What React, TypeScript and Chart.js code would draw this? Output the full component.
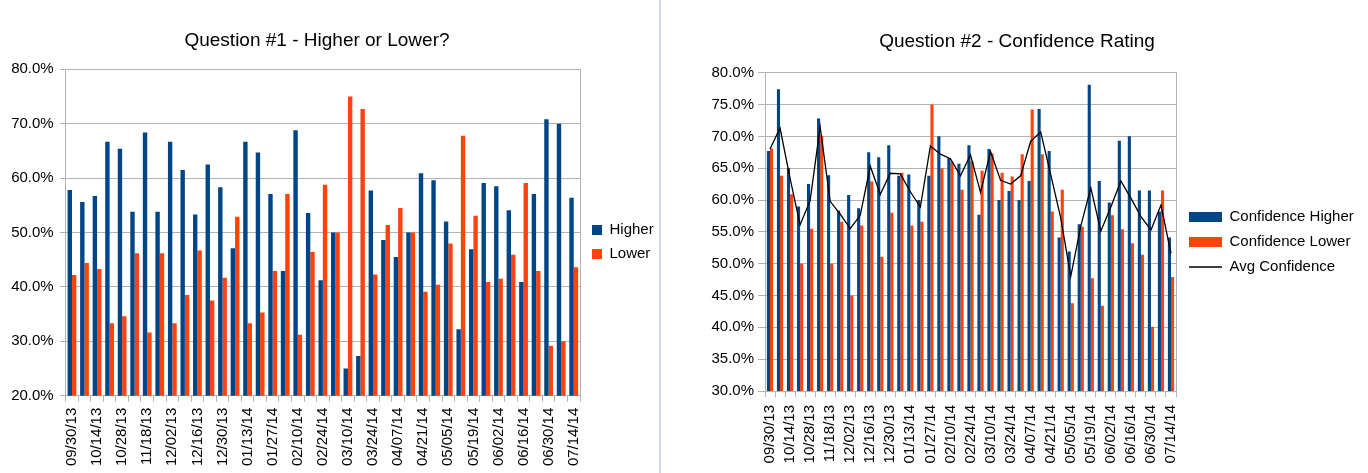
import React, { useEffect, useRef } from 'react';
import { Chart, registerables } from 'chart.js';

Chart.register(...registerables);

const FONT = "'Liberation Sans', Arial, sans-serif";
Chart.defaults.font.family = FONT;
Chart.defaults.color = '#000';

// Weekly categories (labels shown on every other category)
const weeks = [
  '09/30/13', '10/07/13', '10/14/13', '10/21/13', '10/28/13', '11/11/13', '11/18/13', '11/25/13',
  '12/02/13', '12/09/13', '12/16/13', '12/23/13', '12/30/13', '01/06/14', '01/13/14', '01/20/14',
  '01/27/14', '02/03/14', '02/10/14', '02/17/14', '02/24/14', '03/03/14', '03/10/14', '03/17/14',
  '03/24/14', '03/31/14', '04/07/14', '04/14/14', '04/21/14', '04/28/14', '05/05/14', '05/12/14',
  '05/19/14', '05/26/14', '06/02/14', '06/09/14', '06/16/14', '06/23/14', '06/30/14', '07/07/14',
  '07/14/14',
];

// Question #1 - Higher or Lower? (percent)
const q1Higher = [
  57.8, 55.6, 56.7, 66.7, 65.4, 53.8, 68.4, 53.8, 66.7, 61.5, 53.3, 62.5, 58.3, 47.1, 66.7, 64.7,
  57.1, 42.9, 68.8, 53.6, 41.2, 50.0, 25.0, 27.3, 57.7, 48.6, 45.5, 50.0, 60.9, 59.6, 52.0, 32.2,
  46.9, 59.1, 58.5, 54.1, 40.9, 57.1, 70.8, 70.0, 56.4,
];
const q1Lower = [
  42.2, 44.4, 43.3, 33.3, 34.6, 46.2, 31.6, 46.2, 33.3, 38.5, 46.7, 37.5, 41.7, 52.9, 33.3, 35.3,
  42.9, 57.1, 31.2, 46.4, 58.8, 50.0, 75.0, 72.7, 42.3, 51.4, 54.5, 50.0, 39.1, 40.4, 48.0, 67.8,
  53.1, 40.9, 41.5, 45.9, 59.1, 42.9, 29.2, 30.0, 43.6,
];

// Question #2 - Confidence Rating (percent)
const q2Higher = [
  67.7, 77.4, 65.0, 59.0, 62.5, 72.8, 63.9, 58.3, 60.8, 58.7, 67.5, 66.7, 68.6, 63.8, 64.0, 60.0,
  63.8, 70.0, 66.6, 65.7, 68.6, 57.7, 68.0, 60.0, 61.4, 60.0, 63.0, 74.3, 67.7, 54.1, 51.9, 56.2,
  78.1, 63.0, 59.6, 69.3, 70.0, 61.5, 61.5, 58.2, 54.1,
];
const q2Lower = [
  68.1, 63.8, 60.9, 50.0, 55.5, 70.1, 50.0, 56.6, 45.0, 56.0, 62.9, 51.1, 58.0, 64.3, 56.0, 56.6,
  75.0, 65.0, 66.0, 61.6, 66.1, 64.6, 67.3, 64.3, 63.7, 67.2, 74.2, 67.2, 58.2, 61.6, 43.8, 55.8,
  47.7, 43.4, 57.6, 55.4, 53.2, 51.4, 40.1, 61.5, 47.9,
];
const q2Avg = [
  68.0, 71.3, 63.4, 56.1, 59.9, 71.5, 59.8, 57.8, 55.5, 57.6, 65.3, 60.9, 64.2, 64.1, 61.3, 58.9,
  68.5, 67.2, 66.5, 63.8, 67.1, 61.2, 67.6, 63.1, 62.5, 63.8, 69.2, 70.7, 64.0, 57.2, 48.0, 55.9,
  61.9, 55.1, 58.9, 63.0, 60.3, 57.4, 55.3, 59.2, 51.6,
];

const q1YTicks = [20, 30, 40, 50, 60, 70, 80];
const q2YTicks = [30, 35, 40, 45, 50, 55, 60, 65, 70, 75, 80];

const BLUE = '#004586';
const ORANGE = '#ff420e';
const GRID = '#b3b3b3';

const pct = (v: any) => Number(v).toFixed(1) + '%';
const everyOther = (_v: any, i: number) => (i % 2 === 0 ? weeks[i] : '');

function makeLeftConfig(): any {
  return {
    type: 'bar',
    data: {
      labels: weeks,
      datasets: [
        { label: 'Higher', data: q1Higher, backgroundColor: BLUE },
        { label: 'Lower', data: q1Lower, backgroundColor: ORANGE },
      ],
    },
    options: {
      responsive: false,
      animation: false,
      events: [],
      layout: { padding: { left: 0, right: 4, top: 0, bottom: 0 } },
      datasets: { bar: { categoryPercentage: 0.7, barPercentage: 1 } },
      plugins: {
        tooltip: { enabled: false },
        title: {
          display: true,
          text: 'Question #1 - Higher or Lower?',
          color: '#000',
          font: { size: 19, weight: 'normal', family: FONT },
          padding: { top: 29.3, bottom: 17.2 },
        },
        legend: {
          position: 'right',
          maxWidth: 73,
          title: { display: true, text: '', font: { size: 11, lineHeight: 1 }, padding: 0 },
          labels: {
            boxWidth: 10,
            boxHeight: 10,
            padding: 9,
            color: '#000',
            font: { size: 15, family: FONT },
          },
        },
      },
      scales: {
        x: {
          grid: { drawOnChartArea: false, tickLength: 6, color: GRID, offset: true },
          border: { color: GRID },
          ticks: {
            autoSkip: false,
            maxRotation: 90,
            minRotation: 90,
            padding: 6,
            color: '#000',
            font: { size: 15 },
            callback: everyOther,
          },
          afterFit: (s: any) => { s.height = 77.3; },
        },
        y: {
          min: q1YTicks[0],
          max: q1YTicks[q1YTicks.length - 1],
          ticks: { stepSize: q1YTicks[1] - q1YTicks[0], callback: pct, padding: 6, color: '#000', font: { size: 15 } },
          grid: { color: GRID, tickLength: 6 },
          border: { color: GRID },
          afterFit: (s: any) => { s.width = 87.7; },
        },
        yR: {
          position: 'right',
          ticks: { display: false },
          grid: { drawOnChartArea: false, drawTicks: false },
          border: { color: GRID },
          afterFit: (s: any) => { s.width = 3; },
        },
      },
    },
  };
}

function makeRightConfig(): any {
  return {
    type: 'bar',
    data: {
      labels: weeks,
      datasets: [
        { type: 'bar', label: 'Confidence Higher', data: q2Higher, backgroundColor: BLUE, order: 1 },
        { type: 'bar', label: 'Confidence Lower', data: q2Lower, backgroundColor: ORANGE, order: 1 },
        {
          type: 'line',
          label: 'Avg Confidence',
          data: q2Avg,
          borderColor: '#000',
          backgroundColor: '#000',
          borderWidth: 1.3,
          pointRadius: 0,
          tension: 0,
          fill: false,
          order: 0,
        },
      ],
    },
    options: {
      responsive: false,
      animation: false,
      events: [],
      layout: { padding: { left: 16, right: 10, top: 0, bottom: 0 } },
      datasets: { bar: { categoryPercentage: 0.62, barPercentage: 1 } },
      plugins: {
        tooltip: { enabled: false },
        title: {
          display: true,
          text: 'Question #2 - Confidence Rating',
          color: '#000',
          font: { size: 19, weight: 'normal', family: FONT },
          padding: { top: 30.3, bottom: 19.6 },
        },
        legend: {
          position: 'right',
          maxWidth: 179,
          title: { display: true, text: '', font: { size: 11, lineHeight: 1 }, padding: 0 },
          labels: {
            usePointStyle: true,
            pointStyleWidth: 33,
            boxHeight: 10,
            padding: 10,
            color: '#000',
            font: { size: 15, family: FONT },
            sort: (a: any, b: any) => a.datasetIndex - b.datasetIndex,
            generateLabels: (chart: any) => {
              const items = (Chart as any).defaults.plugins.legend.labels.generateLabels(chart);
              return items.map((it: any) =>
                it.datasetIndex === 2
                  ? { ...it, pointStyle: 'line', lineWidth: 1.3, strokeStyle: '#000', fillStyle: '#000', rotation: 0 }
                  : { ...it, pointStyle: 'rect', lineWidth: 0, rotation: 0 }
              );
            },
          },
        },
      },
      scales: {
        x: {
          grid: { drawOnChartArea: false, tickLength: 6, color: GRID, offset: true },
          border: { color: GRID },
          ticks: {
            autoSkip: false,
            maxRotation: 90,
            minRotation: 90,
            padding: 8,
            color: '#000',
            font: { size: 15 },
            callback: everyOther,
          },
          afterFit: (s: any) => { s.height = 82; },
        },
        y: {
          min: q2YTicks[0],
          max: q2YTicks[q2YTicks.length - 1],
          ticks: { stepSize: q2YTicks[1] - q2YTicks[0], callback: pct, padding: 4, color: '#000', font: { size: 15 } },
          grid: { color: GRID, tickLength: 7 },
          border: { color: GRID },
          afterFit: (s: any) => { s.width = 89; },
        },
        yR: {
          position: 'right',
          ticks: { display: false },
          grid: { drawOnChartArea: false, drawTicks: false },
          border: { color: GRID },
          afterFit: (s: any) => { s.width = 3; },
        },
      },
    },
  };
}

function ChartCanvas({ width, height, left, make }: { width: number; height: number; left: number; make: () => any }) {
  const ref = useRef<HTMLCanvasElement | null>(null);
  useEffect(() => {
    if (!ref.current) return;
    const chart = new Chart(ref.current, make());
    return () => chart.destroy();
  }, []);
  return (
    <canvas
      ref={ref}
      width={width}
      height={height}
      style={{ position: 'absolute', left, top: 0, width, height, display: 'block' }}
    />
  );
}

export default function App() {
  return (
    <div style={{ position: 'absolute', left: 0, top: 0, width: 1368, height: 473, background: '#fff', overflow: 'hidden' }}>
      <ChartCanvas width={682} height={473} left={-22} make={makeLeftConfig} />
      <ChartCanvas width={708} height={473} left={660} make={makeRightConfig} />
      <div style={{ position: 'absolute', left: 659, top: 0, width: 2, height: 473, background: '#cdd9ea' }} />
    </div>
  );
}
